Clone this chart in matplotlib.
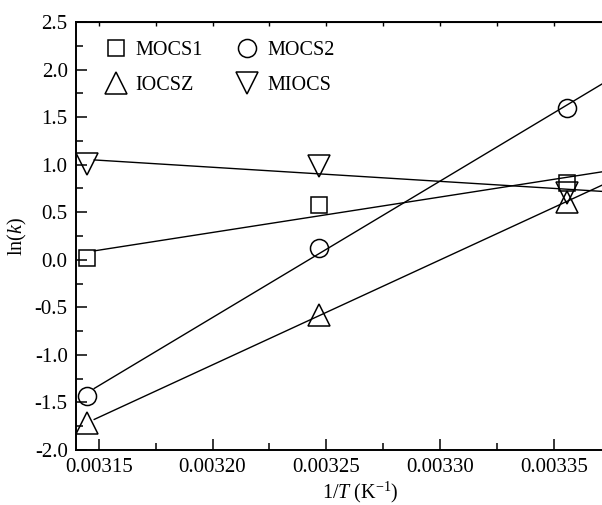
import numpy as np
import matplotlib.pyplot as plt
from matplotlib.ticker import MultipleLocator, FormatStrFormatter

plt.rcParams['font.family'] = ['Liberation Serif', 'DejaVu Serif']
plt.rcParams['mathtext.fontset'] = 'custom'
plt.rcParams['mathtext.rm'] = 'Liberation Serif'
plt.rcParams['mathtext.it'] = 'Liberation Serif:italic'
plt.rcParams['axes.unicode_minus'] = False

# 1/T values (298, 308, 318 K)
inv_T = [1 / 318, 1 / 308, 1 / 298]

# ln(k) for each catalyst
mocs1 = [0.02, 0.58, 0.81]
mocs2 = [-1.43, 0.12, 1.60]
iocsz = [-1.72, -0.58, 0.61]
miocs = [1.01, 0.99, 0.70]

series = [("MOCS1", mocs1, 's', 12),
          ("MOCS2", mocs2, 'o', 13),
          ("IOCSZ", iocsz, '^', 16),
          ("MIOCS", miocs, 'v', 16)]

fig = plt.figure(figsize=(6.02, 5.05), dpi=100)
# axes runs past the right edge of the figure, as in the original crop
ax = fig.add_axes([76 / 602, 55 / 505, 569 / 602, 428 / 505])

x_fit = np.linspace(0.003148, 0.00339, 50)
handles = {}
for name, y, m, ms in series:
    h, = ax.plot(inv_T, y, linestyle='none', marker=m, markersize=ms,
                 markerfacecolor='none', markeredgecolor='black', markeredgewidth=1.1,
                 label=name)
    handles[name] = h
    slope, icpt = np.polyfit(inv_T, y, 1)
    ax.plot(x_fit, slope * x_fit + icpt, color='black', linewidth=1.0)

ax.set_xlim(0.00314, 0.00339)
ax.set_ylim(-2.0, 2.5)
ax.xaxis.set_major_locator(MultipleLocator(0.00005))
ax.xaxis.set_minor_locator(MultipleLocator(0.000025))
ax.yaxis.set_major_locator(MultipleLocator(0.5))
ax.yaxis.set_minor_locator(MultipleLocator(0.25))
ax.xaxis.set_major_formatter(FormatStrFormatter('%.5f'))
ax.yaxis.set_major_formatter(FormatStrFormatter('%.1f'))

ax.tick_params(which='both', direction='in', labelsize=15, width=1.1)
ax.tick_params(which='major', length=8, pad=6)
ax.tick_params(which='minor', length=5)
for s in ['left', 'bottom', 'top']:
    ax.spines[s].set_linewidth(1.4)
ax.spines['right'].set_visible(False)

top = ax.secondary_xaxis('top')
top.xaxis.set_major_locator(MultipleLocator(0.000025))
top.tick_params(direction='in', length=3, width=1.0, labeltop=False)

ax.set_xlabel(r'1/$T$ (K$^{-1}$)', fontsize=14.5, labelpad=2)
ax.set_ylabel(r'ln($k$)', fontsize=14.5, labelpad=4)

# row-wise legend order: MOCS1, MOCS2 / IOCSZ, MIOCS
order = ["MOCS1", "IOCSZ", "MOCS2", "MIOCS"]
ax.legend([handles[n] for n in order], order,
          loc='upper left', bbox_to_anchor=(0.052, 0.955), ncol=2, frameon=False,
          fontsize=14.5, numpoints=1, borderaxespad=0, borderpad=0,
          handlelength=1.0, handletextpad=0.5, columnspacing=1.7, labelspacing=0.75)

fig.savefig('out.png', dpi=100)
